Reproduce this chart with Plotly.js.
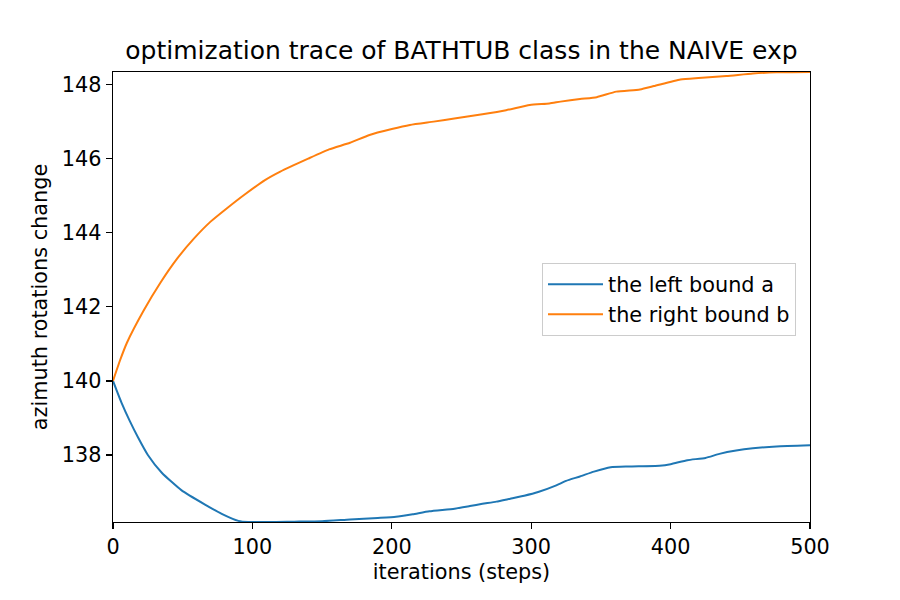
<!DOCTYPE html>
<html>
<head>
<meta charset="utf-8">
<script src="https://cdn.plot.ly/plotly-3.0.1.min.js"></script>
<style>html,body{margin:0;padding:0;background:#fff;}#chart{width:900px;height:600px;}</style>
</head>
<body>
<div id="chart"></div>
<script>
const leftSteps = [0,6,12,18,25,35,49,66,78,90,97,130,150,170,190,203,215,227,245,256,265,275,285,295,305,318,325,335,345,357,370,392,400,412,425,435,447,459,476,500];
const leftValues = [140,139.42,138.92,138.47,138.0,137.52,137.05,136.66,136.41,136.22,136.19,136.2,136.21,136.26,136.3,136.33,136.4,136.48,136.55,136.62,136.68,136.74,136.82,136.9,137.0,137.18,137.3,137.42,137.55,137.67,137.69,137.71,137.75,137.86,137.92,138.03,138.12,138.18,138.23,138.26];
const rightSteps = [0,5,10,22,34,46,58,70,82,94,109,120,140,155,170,184,200,213,230,246,265,282,299,313,321,335,347,361,378,388,407,420,440,459,476,500];
const rightValues = [140,140.55,141.03,141.9,142.65,143.3,143.84,144.3,144.67,145.02,145.42,145.65,146.0,146.25,146.43,146.64,146.8,146.91,147.0,147.09,147.2,147.31,147.45,147.49,147.54,147.61,147.66,147.81,147.87,147.96,148.14,148.18,148.23,148.3,148.33,148.34];
const titleText = "optimization trace of BATHTUB class in the NAIVE exp";
const xLabel = "iterations (steps)";
const yLabel = "azimuth rotations change";
const leftName = "the left bound a";
const rightName = "the right bound b";

const font = "DejaVu Sans, sans-serif";
const traces = [
  {x: leftSteps, y: leftValues, name: leftName, mode: "lines", line: {color: "#1f77b4", width: 2, shape: "spline", smoothing: 0.5}},
  {x: rightSteps, y: rightValues, name: rightName, mode: "lines", line: {color: "#ff7f0e", width: 2, shape: "spline", smoothing: 0.5}}
];
const axisCommon = {
  showgrid: false, zeroline: false, showline: true, linecolor: "#000", linewidth: 1.3, mirror: true,
  ticks: "outside", ticklen: 6, tickwidth: 1.3, tickcolor: "#000",
  tickfont: {family: font, size: 20.8, color: "#000"}
};
const layout = {
  width: 900, height: 600,
  paper_bgcolor: "#fff", plot_bgcolor: "#fff",
  margin: {l: 113, r: 90, t: 72, b: 78},
  font: {family: font, color: "#000"},
  title: {text: titleText, font: {family: font, size: 25, color: "#000"}, x: 0.5, xref: "paper", y: 1 - 50/600, yanchor: "middle"},
  xaxis: Object.assign({}, axisCommon, {range: [0, 500], tickvals: [0,100,200,300,400,500],
    title: {text: xLabel, font: {family: font, size: 20.8, color: "#000"}, standoff: 6}}),
  yaxis: Object.assign({}, axisCommon, {range: [136.19, 148.34], tickvals: [138,140,142,144,146,148],
    title: {text: yLabel, font: {family: font, size: 20.8, color: "#000"}, standoff: 8}}),
  showlegend: true,
  legend: {x: 0.6155, y: 0.575, xanchor: "left", yanchor: "top", bgcolor: "rgba(255,255,255,0.8)",
    bordercolor: "#cccccc", borderwidth: 1, itemwidth: 55, font: {family: font, size: 20.8, color: "#000"}, tracegroupgap: 0}
};
Plotly.newPlot("chart", traces, layout, {displayModeBar: false, staticPlot: true});
</script>
</body>
</html>
